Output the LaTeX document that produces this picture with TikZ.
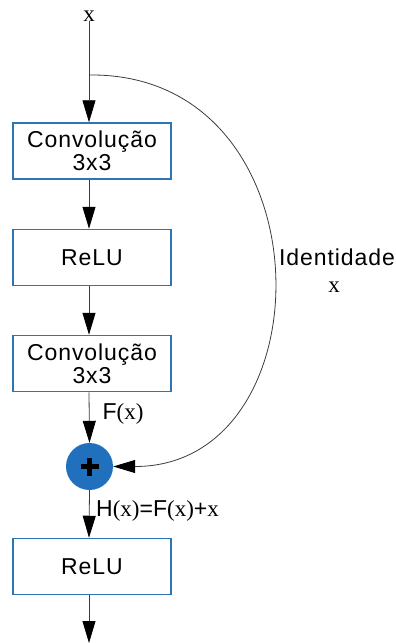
\documentclass[tikz,border=0pt]{standalone}
\usepackage{fontspec}
\setmainfont{Liberation Serif}
\newfontfamily\boxfont[LetterSpace=4]{Liberation Sans}
\newfontfamily\plainsans{Liberation Sans}
\usetikzlibrary{arrows.meta}
\definecolor{boxblue}{RGB}{46,117,182}
\definecolor{sumblue}{RGB}{33,112,190}
\definecolor{wire}{RGB}{60,60,60}
\tikzset{
  block/.style={draw=boxblue, line width=1.5pt, fill=white, minimum width=158pt,
    minimum height=56pt, align=center, inner sep=0pt,
    font=\fontsize{23}{23}\boxfont},
  flow/.style={draw=wire, line width=0.8pt,
    -{Triangle[length=22pt,width=13pt,color=black,fill=black]}},
  sumnode/.style={circle, fill=sumblue, minimum size=47pt, inner sep=0pt},
  lbl/.style={inner sep=0pt, font=\fontsize{23}{24}\selectfont},
}
\newcommand{\sfpart}[1]{{\plainsans #1}}
\begin{document}
\begin{tikzpicture}[x=1pt,y=-1pt]
  \useasboundingbox (0,0) rectangle (396,643);

  % input and trunk
  \node[lbl] (in) at (89,16) {x};
  \coordinate (split) at (89,75);
  \node[block] (conv1) at (92,151) {Convolução\\3x3};
  \node[block] (relu1) at (92,257.5) {ReLU};
  \node[block] (conv2) at (92,363.5) {Convolução\\3x3};
  \node[sumnode] (sum) at (89.5,466.5) {};
  \node[block] (relu2) at (92,566.5) {ReLU};
  \coordinate (out) at (89,643);

  % plus sign in the adder
  \draw[line width=5pt] ([xshift=-9pt]sum.center) -- ([xshift=9pt]sum.center);
  \draw[line width=5pt] ([yshift=-9pt]sum.center) -- ([yshift=9pt]sum.center);

  % main path
  \draw[flow] (in.south) -- (conv1.north -| in.south);
  \draw[flow] (conv1.south -| in.south) -- (relu1.north -| in.south);
  \draw[flow] (relu1.south -| in.south) -- (conv2.north -| in.south);
  \draw[flow] (conv2.south -| in.south) -- (sum.north);
  \draw[flow] (sum.south) -- (relu2.north -| in.south);
  \draw[flow] (relu2.south -| in.south) -- (out);

  % identity shortcut
  \draw[flow] (split) .. controls (330,72) and (330,466.5) .. (sum.east);

  % labels
  \node[lbl] (fx) at (123,414) {\sfpart{F}(x)};
  \node[lbl, anchor=west] (hx) at (96,511) {\sfpart{H}(x)\sfpart{=F}(x)\sfpart{+}x};
  \node[lbl] (idt) at (337,257) {\boxfont Identidade};
  \node[lbl] (idx) at (334,287) {x};
\end{tikzpicture}
\end{document}
